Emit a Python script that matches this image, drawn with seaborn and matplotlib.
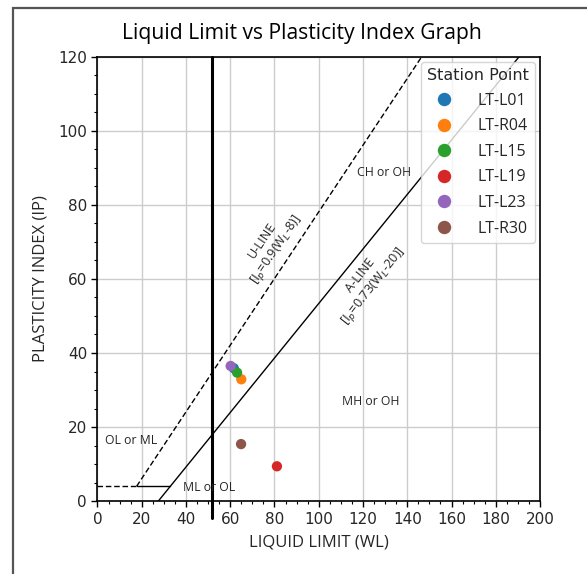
import numpy as np
import pandas as pd
import seaborn as sns
import matplotlib.pyplot as plt
from matplotlib.patches import Rectangle
from matplotlib.ticker import MultipleLocator

# Station data
stations = ["LT-L01", "LT-R04", "LT-L15", "LT-L19", "LT-L23", "LT-R30"]
liquid_limit = [61.6, 65.0, 63.1, 81.1, 60.2, 64.9]
plasticity_index = [35.9, 32.9, 34.7, 9.4, 36.5, 15.4]

# Reference lines as drawn in the chart
u_line_wl = [17.7, 146.5]
u_line_ip = [4, 120]
a_line_wl = [27.5, 190.5]
a_line_ip = [0, 120]
low_dash_wl = [0, 17.7]
low_solid_wl = [17.7, 33.0]
low_ip = [4, 4]
ll_limit = 51.6


def main():
    sns.set_style("ticks")
    plt.rcParams['font.family'] = ['DejaVu Sans']
    label_font = ['Open Sans', 'DejaVu Sans']

    df = pd.DataFrame({"Station Point": stations, "LL": liquid_limit, "PI": plasticity_index})

    fig = plt.figure(figsize=(5.87, 5.74), dpi=100)
    ax = fig.add_axes([0.166, 0.127, 0.754, 0.774])

    # border frame around the figure
    fig.patches.append(Rectangle((13 / 587, -0.1), 1.2, 0.1 + (574 - 8) / 574, transform=fig.transFigure,
                                 fill=False, edgecolor="#555555", linewidth=1.6))

    ax.plot(u_line_wl, u_line_ip, color="black", linestyle="--", linewidth=1.0, dashes=(4, 2))
    ax.plot(a_line_wl, a_line_ip, color="black", linewidth=1.0)
    ax.plot(low_dash_wl, low_ip, color="black", linestyle="--", linewidth=1.0, dashes=(4, 2))
    ax.plot(low_solid_wl, low_ip, color="black", linewidth=1.0)
    ax.plot([ll_limit, ll_limit], [-4.5, 120], color="black", linewidth=2.2, clip_on=False, zorder=3)

    sns.scatterplot(data=df, x="LL", y="PI", hue="Station Point", palette="tab10", s=55,
                    linewidth=0, ax=ax, zorder=4)

    ax.set_xlim(0, 200)
    ax.set_ylim(0, 120)
    ax.xaxis.set_major_locator(MultipleLocator(20))
    ax.yaxis.set_major_locator(MultipleLocator(20))
    ax.xaxis.set_minor_locator(MultipleLocator(5))
    ax.yaxis.set_minor_locator(MultipleLocator(5))
    ax.tick_params(which="major", length=4, width=1, labelsize=11, color="black")
    ax.tick_params(which="minor", length=2.5, width=0.8, color="black")
    ax.grid(True, which="major", color="#cccccc", linewidth=1.0)
    for sp in ax.spines.values():
        sp.set_color("black")
        sp.set_linewidth(1.2)

    ax.set_xlabel("LIQUID LIMIT (WL)", fontsize=12, family=label_font, labelpad=6)
    ax.set_ylabel("PLASTICITY INDEX (IP)", fontsize=12, family=label_font, labelpad=7)
    fig.text(302 / 587, 1 - 33 / 574, "Liquid Limit vs Plasticity Index Graph", ha="center", va="center",
             fontsize=15.2, family=label_font, color="black")

    ax.text(129.6, 88.7, "CH or OH", fontsize=8.8, family=label_font, ha="center", va="center")
    ax.text(123.5, 27, "MH or OH", fontsize=8.8, family=label_font, ha="center", va="center")
    ax.text(15, 16.4, "OL or ML", fontsize=8.8, family=label_font, ha="center", va="center")
    ax.text(50.3, 3.8, "ML or OL", fontsize=8.8, family=label_font, ha="center", va="center")
    ax.text(78, 69.0, "U-LINE\n[I$_p$=0.9(W$_L$-8)]", fontsize=9.2, family=label_font, ha="center",
            va="center", rotation=56, linespacing=1.15)
    ax.text(122, 59.3, "A-LINE\n[I$_p$=0.73(W$_L$-20)]", fontsize=9.2, family=label_font, ha="center",
            va="center", rotation=52, linespacing=1.15)

    leg = ax.legend(title="Station Point", loc="upper right", fontsize=11.5, title_fontsize=11.5,
                    markerscale=1.3, handletextpad=1.1, borderaxespad=0.3, labelspacing=0.6)
    for t in leg.get_texts():
        t.set_family(label_font)

    plt.savefig("out.png", dpi=100)


if __name__ == "__main__":
    main()
